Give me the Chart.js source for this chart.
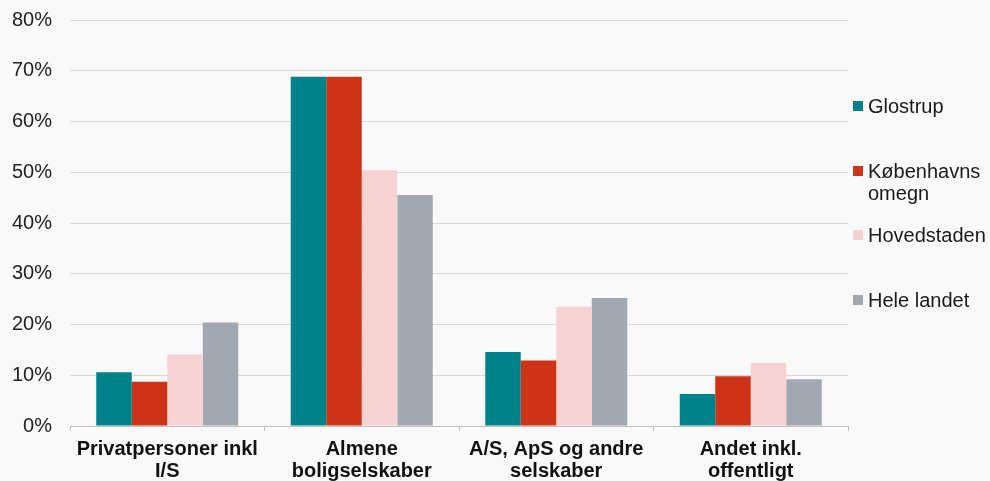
<!DOCTYPE html>
<html>
<head>
<meta charset="utf-8">
<script src="https://cdn.jsdelivr.net/npm/chart.js@4"></script>
<style>
    html, body { margin: 0; padding: 0; background: #f9f9f9; }
    #wrap { position: relative; width: 990px; height: 481px; overflow: hidden; }
    #legend { position: absolute; left: 853px; top: 0; width: 137px; }
    .legend-item { position: absolute; left: 0; width: 137px; display: flex; align-items: flex-start;
        font-family: 'Liberation Sans', Arial, sans-serif; font-size: 20px; line-height: 22px; color: #1a1a1a; }
    .legend-box { width: 10px; height: 10px; margin-top: 6px; margin-right: 5px; flex: none; }
</style>
</head>
<body>
<div id="wrap">
    <canvas id="chart" width="990" height="481"></canvas>
    <div id="legend"></div>
</div>
<script>
// Categories and series (percent)
const categories = [
    ['Privatpersoner inkl', 'I/S'],
    ['Almene', 'boligselskaber'],
    ['A/S, ApS og andre', 'selskaber'],
    ['Andet inkl.', 'offentligt']
];
const seriesNames = ['Glostrup', 'Københavns omegn', 'Hovedstaden', 'Hele landet'];
const glostrup = [10.6, 68.8, 14.6, 6.3];
const kobenhavnsOmegn = [8.7, 68.8, 12.9, 9.8];
const hovedstaden = [14.1, 50.4, 23.5, 12.4];
const heleLandet = [20.4, 45.5, 25.2, 9.2];
const seriesColors = ['#00828a', '#cc3319', '#f7d2d3', '#a1a8af'];
const yTicks = [0, 10, 20, 30, 40, 50, 60, 70, 80];

const allSeries = [glostrup, kobenhavnsOmegn, hovedstaden, heleLandet];

document.addEventListener('DOMContentLoaded', function() {
    const chart = buildChart();
    buildLegend(chart);
});

function buildChart() {
    const ctx = document.getElementById('chart');
    return new Chart(ctx, {
        type: 'bar',
        data: {
            labels: categories,
            datasets: allSeries.map((values, i) => ({
                label: seriesNames[i],
                data: values,
                backgroundColor: seriesColors[i],
                borderWidth: 0,
                barPercentage: 1,
                categoryPercentage: 0.73
            }))
        },
        options: {
            responsive: false,
            animation: false,
            layout: { padding: { left: 0, right: 142, top: 20, bottom: 0 } },
            plugins: {
                legend: { display: false },
                tooltip: { enabled: false }
            },
            scales: {
                x: {
                    grid: {
                        offset: true,
                        drawOnChartArea: false,
                        drawTicks: true,
                        tickLength: 5,
                        color: '#bfbfbf'
                    },
                    border: { display: true, color: '#bfbfbf', width: 1 },
                    ticks: {
                        color: '#111',
                        padding: 7,
                        maxRotation: 0,
                        autoSkip: false,
                        font: { family: 'Liberation Sans', size: 20, weight: 'bold', lineHeight: 1.1 }
                    },
                    afterFit: function(axis) { axis.height = 55; }
                },
                y: {
                    min: 0,
                    max: 80,
                    afterBuildTicks: function(axis) {
                        axis.ticks = yTicks.map(v => ({ value: v }));
                    },
                    // invisible tick marks give the gap between labels and plot
                    grid: { color: '#d9d9d9', drawTicks: true, tickLength: 18, tickColor: 'rgba(0,0,0,0)', lineWidth: 1 },
                    border: { display: false },
                    ticks: {
                        color: '#222',
                        padding: 0,
                        font: { family: 'Liberation Sans', size: 20 },
                        callback: function(value) { return value + '%'; }
                    },
                    afterFit: function(axis) { axis.width = 70; }
                }
            }
        }
    });
}

// HTML legend on the right, lets the long label wrap
function buildLegend(chart) {
    const container = document.getElementById('legend');
    container.innerHTML = '';
    chart.data.datasets.forEach((ds, i) => {
        const item = document.createElement('div');
        item.className = 'legend-item';
        item.style.top = (95 + i * 64.7) + 'px';
        item.innerHTML = `
            <span class="legend-box" style="background:${ds.backgroundColor}"></span>
            <span>${ds.label}</span>
        `;
        container.appendChild(item);
    });
}
</script>
</body>
</html>
